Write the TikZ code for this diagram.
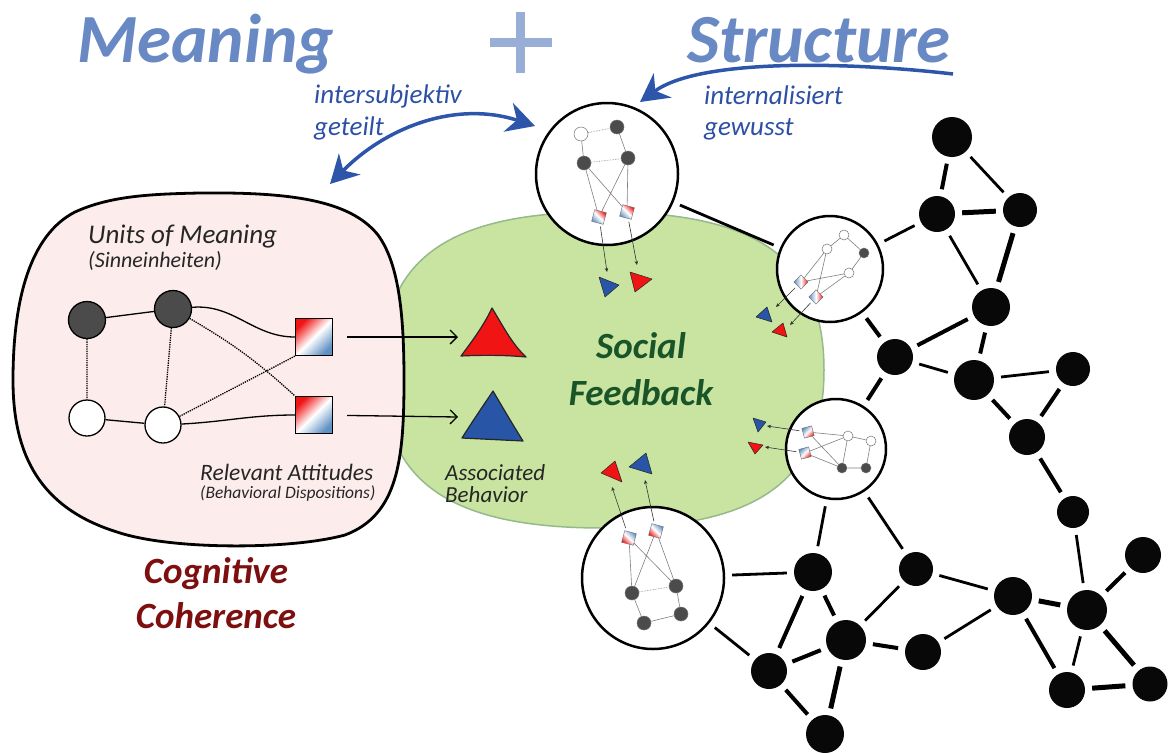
\documentclass[tikz,border=0pt]{standalone}
\usepackage{fontspec}
\setmainfont{Carlito}
\usetikzlibrary{arrows.meta}
\usetikzlibrary{positioning}

\definecolor{titleblue}{RGB}{105,137,196}
\definecolor{plusblue}{RGB}{152,174,214}
\definecolor{arrowblue}{RGB}{45,85,170}
\definecolor{noteblue}{RGB}{45,80,165}
\definecolor{boxpink}{RGB}{253,236,236}
\definecolor{feedgreen}{RGB}{200,228,160}
\definecolor{feedrim}{RGB}{150,185,140}
\definecolor{socialgreen}{RGB}{25,85,40}
\definecolor{cogred}{RGB}{125,15,15}
\definecolor{trired}{RGB}{240,20,20}
\definecolor{triblue}{RGB}{40,85,165}
\definecolor{sqblue}{RGB}{95,145,195}
\definecolor{unitgray}{RGB}{75,75,75}

\tikzset{
  hub/.style={circle, fill=black!97, minimum size=#1, inner sep=0pt},
  link/.style={shorten <=7pt, shorten >=7pt},
  heavyline/.style={line width=5pt},
  midline/.style={line width=4pt},
  lightline/.style={line width=2.8pt},
  lens/.style={circle, draw, line width=2.5pt, fill=white, minimum size=#1, inner sep=0pt},
  unit/.style={circle, draw, line width=1.3pt, fill=#1, minimum size=37pt, inner sep=0pt},
  attitude/.style={draw, line width=1.3pt, minimum size=37pt, inner sep=0pt,
    left color=trired, right color=sqblue, middle color=white, shading angle=45},
  dot/.style={circle, draw=black!55, line width=0.5pt, fill=#1, inner sep=0pt, minimum size=14pt},
  minisq/.style={draw=black!60, line width=0.4pt, inner sep=0pt, minimum size=12pt,
    left color=trired, right color=sqblue, middle color=white, shading angle=#1},
  wire/.style={draw=black!50, line width=0.6pt},
  push/.style={draw=black!80, line width=0.6pt, shorten <=3pt, -{Stealth[length=4pt,width=3.5pt]}},
  tri/.style={fill=#1, draw=black!85, line width=0.5pt, line join=round},
  blueflow/.style={draw=arrowblue, line width=3.5pt},
  bighead/.tip={Stealth[length=28pt,width=30pt,inset=9pt]},
  note/.style={text=noteblue, font=\fontsize{27}{29}\selectfont\itshape, anchor=base west, inner sep=0pt},
  headline/.style={text=titleblue, font=\fontsize{69}{69}\selectfont\bfseries\itshape, anchor=base west, inner sep=0pt},
  caption/.style={font=\fontsize{#1}{#1}\selectfont\itshape, anchor=base west, inner sep=0pt, text=black!85},
  theme/.style={font=\fontsize{37}{37}\selectfont\bfseries\itshape, anchor=base, inner sep=0pt},
}

\begin{document}
\begin{tikzpicture}[x=1pt, y=-1pt]
\useasboundingbox (0,0) rectangle (1168,753);

\path[fill=feedgreen, draw=feedrim, line width=1.5pt]
  (824,370) .. controls (824,481) and (758,528) .. (603,528)
  .. controls (448,528) and (382,481) .. (382,370)
  .. controls (382,259) and (448,212) .. (603,212)
  .. controls (758,212) and (824,259) .. (824,370) -- cycle;

\path[fill=boxpink, draw=black, line width=2.8pt]
  (200,193) .. controls (290,192) and (350,200) .. (378,235)
  .. controls (400,265) and (404,320) .. (404,380)
  .. controls (404,460) and (398,515) .. (345,535)
  .. controls (290,550) and (170,550) .. (117,532)
  .. controls (40,508) and (13,455) .. (13,380)
  .. controls (13,300) and (30,235) .. (75,212)
  .. controls (110,196) and (150,194) .. (200,193) -- cycle;

\node[headline] (meaning) at (77,62) {Meaning};
\node[headline] (structure) at (687,62) {Structure};
\draw[plusblue, line width=9pt] (520,12) -- (520,73) (490,42) -- (552,42);

\node[note] (inter) at (314,103) {intersubjektiv};
\node[note] (geteilt) at (314,135) {geteilt};
\node[note] (intern) at (704,104) {internalisiert};
\node[note] (gewusst) at (704,135) {gewusst};

\node[caption=27] (units) at (88,243) {Units of Meaning};
\node[caption=22] (sinn) at (88,267) {(Sinneinheiten)};
\node[caption=23.5] (relevant) at (200,480) {Relevant Attitudes};
\node[caption=17.5] (dispo) at (200,498) {(Behavioral Dispositions)};
\node[caption=23] (assoc) at (445,480) {Associated};
\node[caption=23] (behav) at (445,502) {Behavior};

\node[theme, text=socialgreen] (social) at (641,358) {Social};
\node[theme, text=socialgreen] (feedback) at (641,405) {Feedback};
\node[theme, text=cogred] (cognitive) at (216,583) {Cognitive};
\node[theme, text=cogred] (coherence) at (216,628) {Coherence};

\node[unit=unitgray] (u1) at (87,320) {};
\node[unit=unitgray] (u2) at (173,309) {};
\node[unit=white, minimum size=36pt] (u3) at (87,418) {};
\node[unit=white, minimum size=36pt] (u4) at (163,425) {};
\node[attitude] (a1) at (314,337) {};
\node[attitude] (a2) at (314,415) {};

\draw[line width=1.3pt] (u1) -- (u2) (u3) -- (u4);
\draw[line width=1.3pt] (u2) to[out=5, in=180] (a1.west);
\draw[line width=1.3pt] (u4) to[out=3, in=180] (a2.west);
\draw[line width=1.3pt, densely dotted]
  (u1) -- (u3) (u2) -- (u4)
  (u2) to[bend left=6] (a2.north west)
  (u4) -- (a1.south west);

\draw[tri=trired, line width=1.2pt] (492,308) .. controls (503,326) and (512,344) .. (526,357)
  .. controls (505,355) and (482,355) .. (461,356) .. controls (473,340) and (484,325) .. (492,308) -- cycle;
\draw[tri=triblue, line width=1.2pt] (493,391) .. controls (503,408) and (513,425) .. (523,441)
  .. controls (503,440) and (482,439) .. (462,438) .. controls (472,422) and (483,406) .. (493,391) -- cycle;
\coordinate (t1) at (458,337);
\coordinate (t2) at (458,417);
\draw[line width=1.3pt, shorten <=14pt, -{Straight Barb[length=7pt,width=14pt]}] (a1) -- (t1);
\draw[line width=1.3pt, shorten <=14pt, -{Straight Barb[length=7pt,width=14pt]}] (a2) -- (t2);

\node[hub=40pt] (n1) at (952,137) {};
\node[hub=36pt] (n2) at (937,214) {};
\node[hub=34pt] (n3) at (1020,210) {};
\node[hub=38pt] (n4) at (991,307) {};
\node[hub=36pt] (n5) at (895,357) {};
\node[hub=40pt] (n6) at (974,380) {};
\node[hub=34pt] (n7) at (1073,369) {};
\node[hub=36pt] (n8) at (1027,437) {};
\node[hub=32pt] (n9) at (1073,512) {};
\node[hub=36pt] (n10) at (1143,555) {};
\node[hub=40pt] (n11) at (1087,610) {};
\node[hub=38pt] (n12) at (1013,596) {};
\node[hub=34pt] (n13) at (916,569) {};
\node[hub=38pt] (n14) at (813,572) {};
\node[hub=40pt] (n15) at (846,640) {};
\node[hub=36pt] (n16) at (923,652) {};
\node[hub=36pt] (n17) at (769,671) {};
\node[hub=38pt] (n18) at (825,734) {};
\node[hub=36pt] (n19) at (1067,690) {};
\node[hub=35pt] (n20) at (1150,684) {};

\node[lens=142pt] (c1) at (607,174) {};
\node[lens=106pt] (c2) at (830,269) {};
\node[lens=100pt] (c3) at (836,449) {};
\node[lens=142pt] (c4) at (653,578) {};

\draw[link]
  (n1) edge[midline] (n2)
  (n1) edge[lightline] (n3)
  (n2) edge[heavyline] (n3)
  (n2) edge[lightline] (n4)
  (n3) edge[heavyline] (n4)
  (n4) edge[midline] (n5)
  (n4) edge[midline] (n6)
  (n5) edge[lightline] (n6)
  (n6) edge[lightline] (n7)
  (n6) edge[midline] (n8)
  (n7) edge[midline] (n8)
  (n8) edge[midline] (n9)
  (n9) edge[lightline] (n11)
  (n10) edge[midline] (n11)
  (n11) edge[heavyline] (n12)
  (n11) edge[lightline] (n19)
  (n11) edge[heavyline] (n20)
  (n19) edge[heavyline] (n20)
  (n12) edge[midline] (n19)
  (n12) edge[lightline] (n13)
  (n12) edge[lightline] (n16)
  (n13) edge[lightline] (n15)
  (n14) edge[midline] (n15)
  (n14) edge[midline] (n17)
  (n15) edge[midline] (n16)
  (n15) edge[midline] (n17)
  (n15) edge[heavyline] (n18)
  (n17) edge[midline] (n18)
  (c1) edge[lightline] (c2)
  (c2) edge[lightline] (n2)
  (c2) edge[midline] (n5)
  (c3) edge[midline] (n5)
  (c3) edge[lightline] (n14)
  (c3) edge[lightline] (n13)
  (c4) edge[lightline] (n14)
  (c4) edge[lightline] (n17);

\node[dot=white] (p1) at (581,134) {};
\node[dot=unitgray] (p2) at (617,127) {};
\node[dot=unitgray] (p3) at (584,163) {};
\node[dot=unitgray] (p4) at (628,158) {};
\node[minisq=-45, rotate=-15] (p5) at (599,217) {};
\node[minisq=-45, rotate=-15] (p6) at (627,212) {};
\draw[wire] (p1) -- (p3) (p2) -- (p4) (p3) -- (p5) (p3) -- (p6) (p4) -- (p5) (p4) -- (p6);
\draw[wire, densely dotted] (p1) -- (p2) (p3) -- (p4);
\coordinate (pb) at (607,272);
\coordinate (pr) at (637,265);
\draw[push] (p5) -- (pb);
\draw[push] (p6) -- (pr);
\draw[tri=triblue] (599,277) -- (619,285) -- (605,297) -- cycle;
\draw[tri=trired] (630,272) -- (652,279) -- (635,292) -- cycle;

\node[dot=white, minimum size=10pt] (q1) at (844,235) {};
\node[dot=white, minimum size=10pt] (q2) at (827,249) {};
\node[dot=unitgray, minimum size=10pt] (q3) at (864,253) {};
\node[dot=white, minimum size=10pt] (q4) at (849,273) {};
\node[minisq=-90, minimum size=10pt, rotate=45] (q5) at (801,282) {};
\node[minisq=-90, minimum size=10pt, rotate=45] (q6) at (816,297) {};
\draw[wire] (q1) -- (q2) (q1) -- (q3) (q3) -- (q4) (q2) -- (q5) (q2) -- (q6) (q4) -- (q5) (q4) -- (q6);
\coordinate (qb) at (776,307);
\coordinate (qr) at (790,325);
\draw[push] (q5) -- (qb);
\draw[push] (q6) -- (qr);
\draw[tri=triblue] (756,317) -- (767,307) -- (772,322) -- cycle;
\draw[tri=trired] (772,332) -- (783,323) -- (787,337) -- cycle;

\node[dot=white, minimum size=10pt] (r1) at (848,436) {};
\node[dot=white, minimum size=10pt] (r2) at (871,441) {};
\node[dot=unitgray, minimum size=10pt] (r3) at (842,468) {};
\node[dot=unitgray, minimum size=10pt] (r4) at (866,468) {};
\node[minisq=-135, minimum size=10pt, rotate=15] (r5) at (808,432) {};
\node[minisq=-135, minimum size=10pt, rotate=15] (r6) at (805,453) {};
\draw[wire] (r5) -- (r1) (r5) -- (r3) (r6) -- (r1) (r6) -- (r3) (r1) -- (r2) (r1) -- (r3) (r2) -- (r4) (r3) -- (r4);
\coordinate (rb) at (767,426);
\coordinate (rr) at (765,447);
\draw[push] (r5) -- (rb);
\draw[push] (r6) -- (rr);
\draw[tri=triblue] (753,418) -- (766,422) -- (758,432) -- cycle;
\draw[tri=trired] (748,442) -- (763,445) -- (755,454) -- cycle;

\node[dot=unitgray] (s1) at (632,593) {};
\node[dot=unitgray] (s2) at (676,586) {};
\node[dot=unitgray] (s3) at (681,614) {};
\node[dot=unitgray] (s4) at (644,623) {};
\node[minisq=135, rotate=-15] (s5) at (629,538) {};
\node[minisq=135, rotate=-15] (s6) at (656,531) {};
\draw[wire] (s5) -- (s1) (s5) -- (s2) (s6) -- (s1) (s6) -- (s2) (s1) -- (s4) (s2) -- (s3) (s3) -- (s4);
\draw[wire, densely dotted] (s1) -- (s2);
\coordinate (sr) at (612,487);
\coordinate (sb) at (645,480);
\draw[push] (s5) -- (sr);
\draw[push] (s6) -- (sb);
\draw[tri=trired] (601,473) -- (615,461) -- (622,482) -- cycle;
\draw[tri=triblue] (629,467) -- (646,453) -- (652,474) -- cycle;

\coordinate (share-l) at (330,184);
\coordinate (share-r) at (535,126);
\coordinate (know-a) at (953,74);
\coordinate (know-b) at (640,102);
\draw[blueflow, bighead-bighead] (share-l) .. controls (385,128) and (455,100) .. (share-r);
\draw[blueflow, -bighead] (know-a) .. controls (850,62) and (700,58) .. (know-b);
\end{tikzpicture}
\end{document}
